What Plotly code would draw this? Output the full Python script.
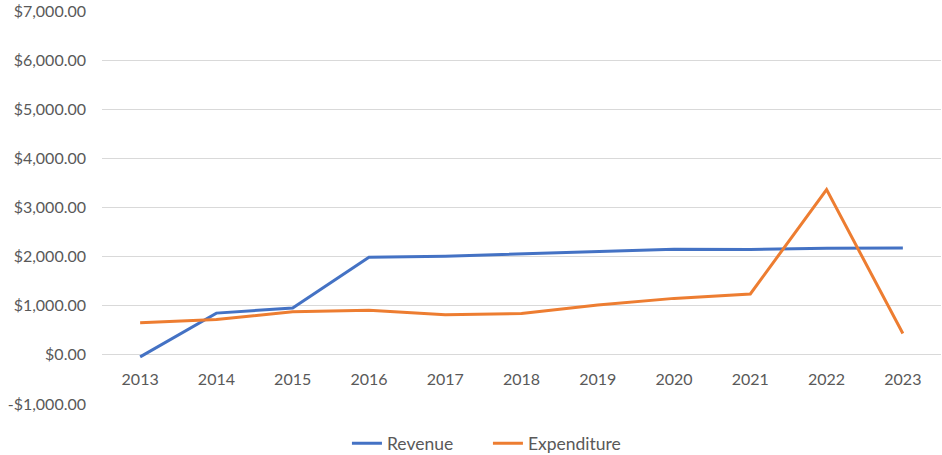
import plotly.graph_objects as go

years = ["2013", "2014", "2015", "2016", "2017", "2018", "2019", "2020", "2021", "2022", "2023"]
revenue = [-40, 850, 955, 1985, 2010, 2060, 2100, 2150, 2145, 2170, 2175]
expenditure = [655, 718, 876, 910, 815, 843, 1015, 1150, 1240, 3365, 435]

tick_vals = [-1000, 0, 1000, 2000, 3000, 4000, 5000, 6000, 7000]
tick_text = [("-$" if v < 0 else "$") + f"{abs(v):,.2f}" for v in tick_vals]

FONT = "Lato"
GREY = "#595959"
GRID = "#d9d9d9"

fig = go.Figure()
fig.add_trace(go.Scatter(x=years, y=revenue, name="Revenue", mode="lines",
                         line=dict(color="#4472C4", width=3)))
fig.add_trace(go.Scatter(x=years, y=expenditure, name="Expenditure", mode="lines",
                         line=dict(color="#ED7D31", width=3)))

fig.update_layout(
    width=942, height=455,
    margin=dict(l=102, r=1, t=11, b=51, autoexpand=False),
    paper_bgcolor="white", plot_bgcolor="white",
    font=dict(family=FONT, size=16, color=GREY),
    showlegend=True,
    legend=dict(orientation="h", x=0.46, xanchor="center", y=-0.10, yanchor="middle",
                font=dict(family=FONT, size=17.5, color=GREY),
                entrywidth=96, entrywidthmode="pixels",
                bgcolor="rgba(0,0,0,0)"),
    xaxis=dict(type="category", range=[-0.5, 10.5], anchor="free", position=0.125,
               showgrid=False, showline=False, zeroline=False, ticks="",
               ticklabelstandoff=13, automargin=False,
               tickfont=dict(family=FONT, size=16, color=GREY)),
    yaxis=dict(range=[-1000, 7000], tickvals=tick_vals, ticktext=tick_text,
               showgrid=True, gridcolor=GRID, gridwidth=1.3,
               zeroline=True, zerolinecolor=GRID, zerolinewidth=1.3,
               showline=False, ticks="", ticklabelstandoff=15, automargin=False,
               tickfont=dict(family=FONT, size=16, color=GREY)),
)

fig.write_html("out.html", config={"displayModeBar": False},
               post_script="document.body.style.margin='0';")
